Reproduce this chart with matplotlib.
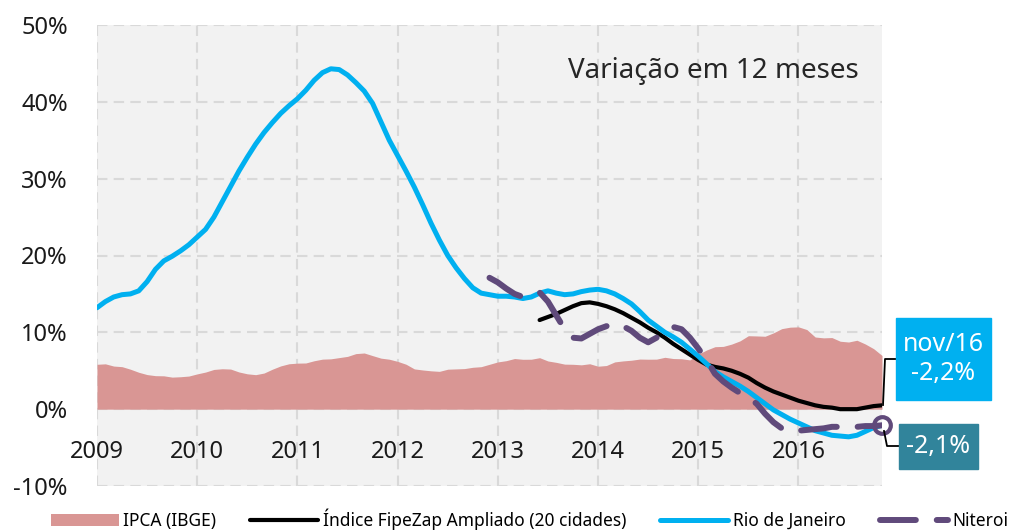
import matplotlib
matplotlib.use('Agg')
import matplotlib.pyplot as plt
import numpy as np
from matplotlib.patches import Rectangle
from matplotlib.lines import Line2D

plt.rcParams['font.family'] = ['Noto Sans', 'DejaVu Sans']

# ---------------- dados (mensal, jan/2009 .. nov/2016)
anos = ['2009', '2010', '2011', '2012', '2013', '2014', '2015', '2016']

ipca = [5.84, 5.90, 5.61, 5.53, 5.20, 4.80, 4.50, 4.36, 4.34, 4.17, 4.22, 4.31,
        4.59, 4.83, 5.17, 5.26, 5.22, 4.84, 4.60, 4.49, 4.70, 5.20, 5.63, 5.91,
        5.99, 6.01, 6.30, 6.51, 6.55, 6.71, 6.87, 7.23, 7.31, 6.97, 6.64, 6.50,
        6.22, 5.85, 5.24, 5.10, 4.99, 4.92, 5.20, 5.24, 5.28, 5.45, 5.53, 5.84,
        6.15, 6.31, 6.59, 6.49, 6.50, 6.70, 6.27, 6.09, 5.86, 5.84, 5.77, 5.91,
        5.59, 5.68, 6.15, 6.28, 6.37, 6.52, 6.50, 6.51, 6.75, 6.59, 6.56, 6.41,
        7.14, 7.70, 8.13, 8.17, 8.47, 8.89, 9.56, 9.53, 9.49, 9.93, 10.48, 10.67,
        10.71, 10.36, 9.39, 9.28, 9.32, 8.84, 8.74, 8.97, 8.48, 7.87, 6.99]

rio = [13.2, 14.0, 14.6, 14.9, 15.0, 15.4, 16.6, 18.2, 19.3, 19.9, 20.6, 21.4,
       22.4, 23.4, 25.0, 27.0, 29.0, 31.0, 32.8, 34.5, 36.0, 37.3, 38.5, 39.5,
       40.4, 41.5, 42.8, 43.8, 44.3, 44.2, 43.5, 42.5, 41.4, 39.8, 37.4, 35.0,
       33.0, 31.0, 28.9, 26.6, 24.2, 22.0, 20.0, 18.4, 17.0, 15.8, 15.1, 14.9,
       14.7, 14.7, 14.6, 14.4, 14.6, 15.1, 15.4, 15.1, 14.9, 15.0, 15.3, 15.5,
       15.6, 15.4, 15.0, 14.4, 13.7, 12.7, 11.6, 10.8, 10.0, 9.4, 8.7, 7.8,
       6.9, 5.9, 4.9, 4.2, 3.6, 3.0, 2.3, 1.5, 0.7, -0.1, -0.7, -1.3,
       -1.8, -2.3, -2.8, -3.1, -3.4, -3.5, -3.6, -3.4, -2.9, -2.4, -2.1]

# FipeZap comeca em jun/2013
fipezap = [11.6, 12.0, 12.4, 12.9, 13.4, 13.8, 13.9, 13.7, 13.4, 13.0, 12.5, 11.9,
           11.3, 10.6, 10.0, 9.3, 8.5, 7.8, 7.1, 6.4, 5.8, 5.5, 5.3, 5.0,
           4.6, 4.1, 3.4, 2.8, 2.3, 1.9, 1.5, 1.1, 0.8, 0.5, 0.3, 0.2,
           0.0, 0.0, 0.0, 0.2, 0.4, 0.5]

# Niteroi comeca em dez/2012
niteroi = [17.1, 16.5, 15.7, 15.0, 14.6, 14.8, 15.2, 14.0, 12.2, 10.4,
           9.3, 9.2, 9.8, 10.4, 10.8, 11.1, 10.8, 10.2, 9.3, 8.7,
           9.3, 10.1, 10.7, 10.4, 9.3, 7.9, 6.4, 4.6, 3.6, 2.8,
           2.1, 1.5, 0.7, -0.6, -1.7, -2.5, -2.9, -2.8, -2.7, -2.6,
           -2.5, -2.3, -2.3, -2.3, -2.3, -2.2, -2.2, -2.1]

n = len(ipca)
x = np.arange(n)
x_fz = np.arange(n - len(fipezap), n)
x_nt = np.arange(n - len(niteroi), n)

c_ipca = '#D99694'
c_rio = '#00B0F0'
c_nit = '#604A7B'
c_teal = '#31849B'

W, H = 1014, 530
fig = plt.figure(figsize=(W / 100, H / 100), dpi=100)
ax = fig.add_axes([97 / W, 1 - 486 / H, (882 - 97) / W, (486 - 25) / H])
ax.set_facecolor('#F2F2F2')

ax.fill_between(x, 0, ipca, color=c_ipca, lw=0, label='IPCA (IBGE)', zorder=2)
ax.plot(x_fz, fipezap, color='black', lw=3, label='Índice FipeZap Ampliado (20 cidades)',
        zorder=3, solid_capstyle='round', solid_joinstyle='round')
ax.plot(x, rio, color=c_rio, lw=3.6, label='Rio de Janeiro', zorder=4,
        solid_capstyle='round', solid_joinstyle='round')
ax.plot(x_nt, niteroi, color=c_nit, lw=4.3, dashes=(6, 3.5), dash_capstyle='round',
        dash_joinstyle='round', label='Niteroi', zorder=5)
ax.plot(x_nt[-1:], niteroi[-1:], 'o', ms=12, mfc='none', mec=c_nit, mew=3,
        zorder=6, clip_on=False)

ax.set_xlim(0, n - 1)
ax.set_ylim(-10, 50)
ax.set_xticks(np.arange(0, n, 12))
ax.set_xticklabels(anos)
ax.set_yticks(np.arange(-10, 51, 10))
ax.set_yticklabels([f'{v}%' for v in range(-10, 51, 10)])
ax.grid(True, color='#D9D9D9', ls=(0, (5, 3)), lw=1.5, zorder=1)
for s in ax.spines.values():
    s.set_visible(False)
ax.spines['bottom'].set_position(('data', 0))
ax.tick_params(axis='both', length=0, labelsize=17, colors='#1a1a1a')
ax.tick_params(axis='x', pad=22)
ax.tick_params(axis='y', pad=21)

ax.text(0.97, 0.90, 'Variação em 12 meses', transform=ax.transAxes,
        ha='right', va='center', fontsize=20, color='#262626')

# caixas de rotulo
def caixa(x0, y0, x1, y1, cor, txt):
    fig.patches.append(Rectangle((x0 / W, 1 - y1 / H), (x1 - x0) / W, (y1 - y0) / H,
                                 transform=fig.transFigure, color=cor, zorder=10))
    fig.text((x0 + x1) / 2 / W, 1 - (y0 + y1) / 2 / H, txt, color='white',
             ha='center', va='center', fontsize=18, linespacing=1.25, zorder=11)

caixa(896, 318, 991, 400, c_rio, 'nov/16\n-2,2%')
caixa(899, 424, 978, 469, c_teal, '-2,1%')

def conector(pts):
    xs = [p[0] / W for p in pts]
    ys = [1 - p[1] / H for p in pts]
    fig.lines.append(Line2D(xs, ys, transform=fig.transFigure, color='black', lw=1.3))

conector([(896, 359), (885, 359), (883, 405)])
conector([(899, 446), (887, 446), (884, 431)])

fig.legend(loc='center left', bbox_to_anchor=(51 / W, 1 - 519 / H), ncol=4, frameon=False,
           fontsize=12.5, handlelength=3.92, columnspacing=1.96, handletextpad=0.25,
           borderpad=0, borderaxespad=0)

fig.savefig('out.png', dpi=100)
